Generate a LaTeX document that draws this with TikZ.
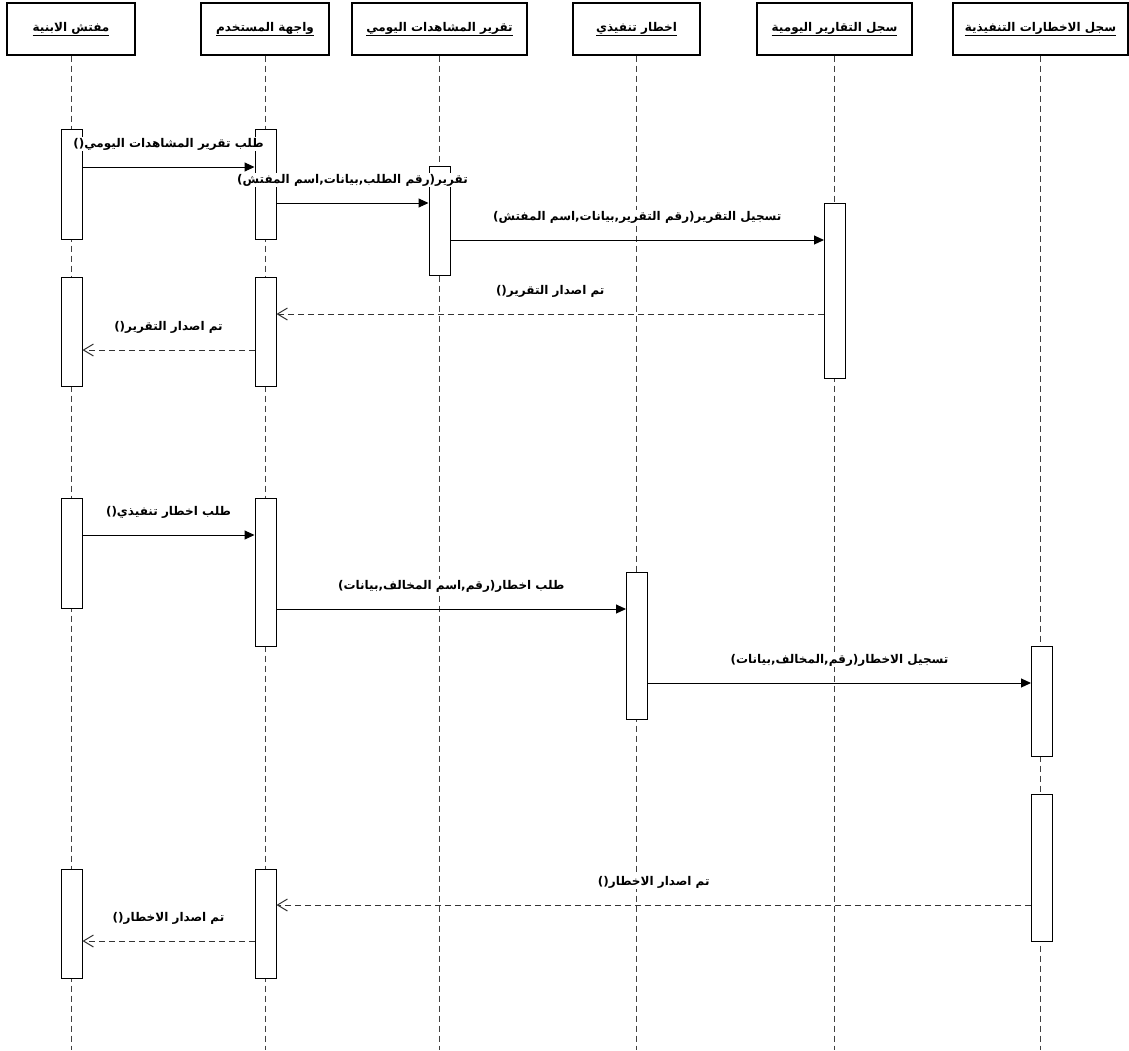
\documentclass[tikz,border=0pt]{standalone}
\usepackage{fontspec}
\newfontfamily\arabicfont[Script=Arabic]{DejaVu Sans}
\TeXXeTstate=1
\usetikzlibrary{arrows.meta}
\newcommand{\artxt}[1]{{\arabicfont\bfseries\beginR #1\endR}}
\begin{document}
\begin{tikzpicture}[x=1pt,y=-1pt,
  head/.style={draw=black, line width=1.3pt, minimum height=52pt, inner sep=0pt, fill=white, font=\fontsize{12}{14}\selectfont},
  life/.style={dash pattern=on 6pt off 4pt, line width=0.9pt, draw=black!75},
  act/.style={draw=black, line width=1pt, fill=white, minimum width=21pt, inner sep=0pt},
  lbl/.style={fill=white, inner sep=1pt, font=\fontsize{12}{14}\selectfont, midway, yshift=23pt},
  msg/.style={line width=1pt, -{Triangle[length=10pt,width=9pt]}},
  ret/.style={line width=1pt, dash pattern=on 6pt off 4pt, draw=black!80, -{Straight Barb[length=10pt,width=12pt]}}]
\useasboundingbox (0,0) rectangle (1129,1050);
\fill[white] (0,0) rectangle (1129,1050);
% headers
\node[head, minimum width=128pt] (h1) at (71,29) {\underline{\artxt{مفتش الابنية}}};
\node[head, minimum width=128pt] (h2) at (265,29) {\underline{\artxt{واجهة المستخدم}}};
\node[head, minimum width=175pt] (h3) at (439.5,29) {\underline{\artxt{تقرير المشاهدات اليومي}}};
\node[head, minimum width=127pt] (h4) at (636.5,29) {\underline{\artxt{اخطار تنفيذي}}};
\node[head, minimum width=155pt] (h5) at (834.5,29) {\underline{\artxt{سجل التقارير اليومية}}};
\node[head, minimum width=175pt] (h6) at (1040.5,29) {\underline{\artxt{سجل الاخطارات التنفيذية}}};
% lifeline ends
\coordinate (e1) at (71,1050);
\coordinate (e2) at (265,1050);
\coordinate (e3) at (439.5,1050);
\coordinate (e4) at (636.5,1050);
\coordinate (e5) at (834.5,1050);
\coordinate (e6) at (1040.5,1050);
\draw[life] (h1) -- (e1);
\draw[life] (h2) -- (e2);
\draw[life] (h3) -- (e3);
\draw[life] (h4) -- (e4);
\draw[life] (h5) -- (e5);
\draw[life] (h6) -- (e6);
% activations
\node[act, minimum height=110pt] (a1a) at (71.5,184) {};
\node[act, minimum height=109pt] (a1b) at (71.5,331.5) {};
\node[act, minimum height=110pt] (a1c) at (71.5,553) {};
\node[act, minimum height=109pt] (a1d) at (71.5,923.5) {};
\node[act, minimum height=110pt] (a2a) at (265.5,184) {};
\node[act, minimum height=109pt] (a2b) at (265.5,331.5) {};
\node[act, minimum height=148pt] (a2c) at (265.5,572) {};
\node[act, minimum height=109pt] (a2d) at (265.5,923.5) {};
\node[act, minimum height=109pt] (a3) at (439.5,220.5) {};
\node[act, minimum height=147pt] (a4) at (637,645.5) {};
\node[act, minimum height=175pt] (a5) at (835,290.5) {};
\node[act, minimum height=110pt] (a6a) at (1042,701) {};
\node[act, minimum height=147pt] (a6b) at (1042,867.5) {};
% message heights
\coordinate (m1) at (0,167);
\coordinate (m2) at (0,203);
\coordinate (m3) at (0,240);
\coordinate (m4) at (0,314);
\coordinate (m5) at (0,350);
\coordinate (m6) at (0,535);
\coordinate (m7) at (0,609);
\coordinate (m8) at (0,683);
\coordinate (m9) at (0,905);
\coordinate (m10) at (0,941);
% messages
\draw[msg] (a1a.east |- m1) -- (a2a.west |- m1) node[lbl] (t1) {\artxt{طلب تقرير المشاهدات اليومي()}};
\draw[msg] (a2a.east |- m2) -- (a3.west |- m2) node[lbl] (t2) {\artxt{تقرير(رقم الطلب,بيانات,اسم المفتش)}};
\draw[msg] (a3.east |- m3) -- (a5.west |- m3) node[lbl] (t3) {\artxt{تسجيل التقرير(رقم التقرير,بيانات,اسم المفتش)}};
\draw[ret] (a5.west |- m4) -- (a2b.east |- m4) node[lbl] (t4) {\artxt{تم اصدار التقرير()}};
\draw[ret] (a2b.west |- m5) -- (a1b.east |- m5) node[lbl] (t5) {\artxt{تم اصدار التقرير()}};
\draw[msg] (a1c.east |- m6) -- (a2c.west |- m6) node[lbl] (t6) {\artxt{طلب اخطار تنفيذي()}};
\draw[msg] (a2c.east |- m7) -- (a4.west |- m7) node[lbl] (t7) {\artxt{طلب اخطار(رقم,اسم المخالف,بيانات)}};
\draw[msg] (a4.east |- m8) -- (a6a.west |- m8) node[lbl] (t8) {\artxt{تسجيل الاخطار(رقم,المخالف,بيانات)}};
\draw[ret] (a6b.west |- m9) -- (a2d.east |- m9) node[lbl] (t9) {\artxt{تم اصدار الاخطار()}};
\draw[ret] (a2d.west |- m10) -- (a1d.east |- m10) node[lbl] (t10) {\artxt{تم اصدار الاخطار()}};
\end{tikzpicture}
\end{document}
